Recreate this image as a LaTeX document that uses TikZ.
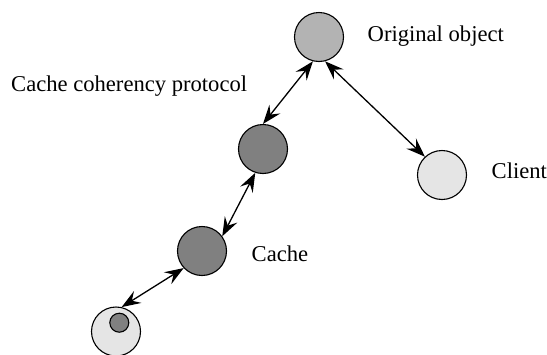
\documentclass[tikz,border=0pt]{standalone}
\usepackage{fontspec}
\setmainfont{Liberation Serif}
\usetikzlibrary{arrows.meta}

\definecolor{origfill}{RGB}{179,179,179}
\definecolor{cachefill}{RGB}{128,128,128}
\definecolor{clientfill}{RGB}{229,229,229}

\tikzset{
  obj/.style={circle, draw=black, line width=1.1pt, minimum size=49pt, inner sep=0pt},
  original/.style={obj, fill=origfill},
  cachenode/.style={obj, fill=cachefill},
  clientnode/.style={obj, fill=clientfill},
  smallcache/.style={circle, draw=black, line width=1.1pt, minimum size=19pt, inner sep=0pt, fill=cachefill},
  lbl/.style={anchor=base west, inner sep=0pt, font=\fontsize{22.6}{27}\selectfont},
  tip/.style={Stealth[length=19pt,width=14pt,inset=7pt]},
  link/.style={line width=1.3pt, {Stealth[length=19pt,width=14pt,inset=7pt]}-{Stealth[length=19pt,width=14pt,inset=7pt]}}
}

\begin{document}
\begin{tikzpicture}[x=1pt, y=-1pt]
  \useasboundingbox (0,0) rectangle (547,354);

  % objects
  \node[original]   (orig)   at (319,37)    {};
  \node[cachenode]  (mid)    at (263,149)   {};
  \node[cachenode]  (cache)  at (202,251)   {};
  \node[clientnode] (client) at (442,175)   {};
  \node[clientnode] (local)  at (116,331.5) {};
  \node[smallcache] (copy)   at (119.3,322.7) {};

  % labels
  \node[lbl] (tOrig)   at (367.5,41.7)  {Original object};
  \node[lbl] (tProto)  at (11,91.7)     {Cache coherency protocol};
  \node[lbl] (tCache)  at (251.5,261.7) {Cache};
  \node[lbl] (tClient) at (491.5,178)   {Client};

  % coherency links
  \draw[link] (orig.256)   -- (mid.90);
  \draw[link] (orig.284)   -- (client.133);
  \draw[link] (mid.252)    -- (cache.36);
  \draw[link] (cache.223)  -- (local.77);
\end{tikzpicture}
\end{document}
